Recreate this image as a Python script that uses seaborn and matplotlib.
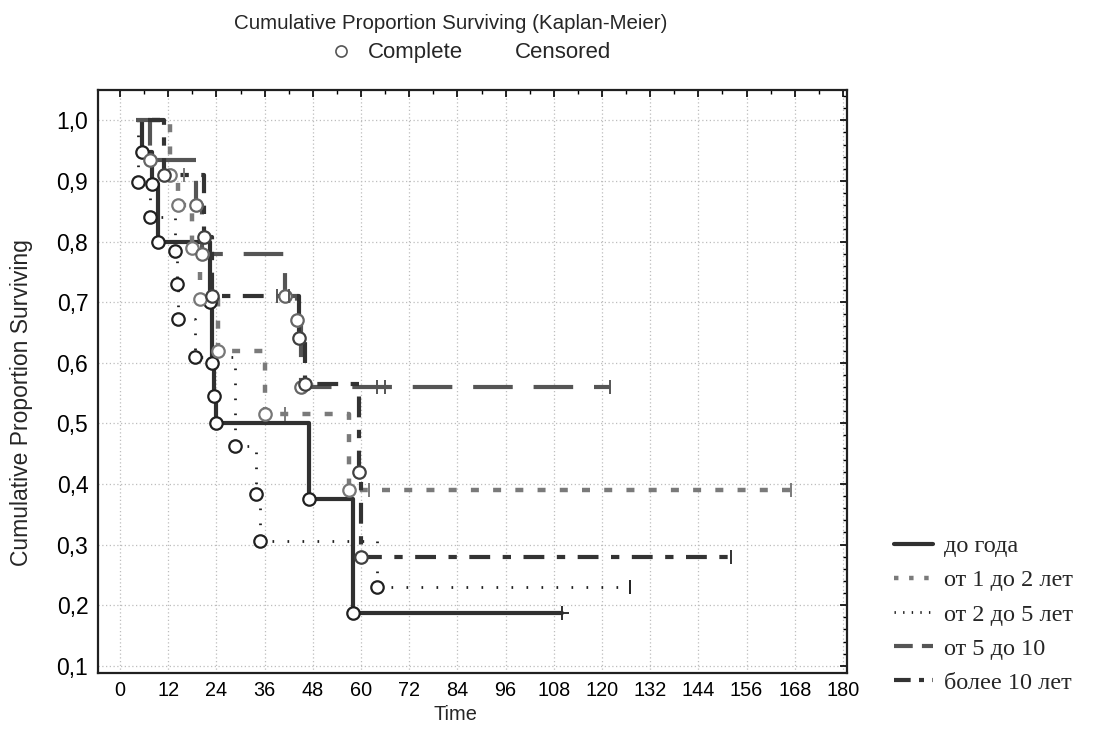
import numpy as np
import pandas as pd
import seaborn as sns
import matplotlib
matplotlib.use("Agg")
import matplotlib.pyplot as plt
from matplotlib.lines import Line2D
from matplotlib.ticker import MultipleLocator, FuncFormatter

# groups
labels = ["до года", "от 1 до 2 лет", "от 2 до 5 лет", "от 5 до 10", "более 10 лет"]

# event (complete) times and survival after each event
a_time = [5.5, 8, 9.5, 22.5, 23, 23.5, 24, 47, 58]
a_surv = [0.947, 0.895, 0.80, 0.70, 0.60, 0.545, 0.50, 0.375, 0.1875]
a_cens_t = [110]
a_cens_s = [0.1875]

b_time = [12.5, 14.5, 18, 20, 24.5, 36, 57]
b_surv = [0.91, 0.86, 0.79, 0.705, 0.62, 0.515, 0.39]
b_cens_t = [16, 41, 62, 167]
b_cens_s = [0.91, 0.515, 0.39, 0.39]

c_time = [4.5, 7.5, 13.7, 14.2, 14.5, 18.7, 28.6, 33.8, 34.8, 64]
c_surv = [0.898, 0.84, 0.785, 0.73, 0.672, 0.61, 0.462, 0.384, 0.306, 0.23]
c_cens_t = [127]
c_cens_s = [0.23]

d_time = [7.5, 19, 20.5, 41, 44, 45]
d_surv = [0.934, 0.86, 0.78, 0.71, 0.67, 0.56]
d_cens_t = [39, 42, 64, 66, 122]
d_cens_s = [0.71, 0.71, 0.56, 0.56, 0.56]

e_time = [11, 21, 23, 44.5, 46, 59.5, 60]
e_surv = [0.91, 0.807, 0.71, 0.64, 0.565, 0.42, 0.28]
e_cens_t = [152]
e_cens_s = [0.28]

start_t = [5.5, 8, 4.5, 4, 7]

groups = [
    (a_time, a_surv, a_cens_t, a_cens_s),
    (b_time, b_surv, b_cens_t, b_cens_s),
    (c_time, c_surv, c_cens_t, c_cens_s),
    (d_time, d_surv, d_cens_t, d_cens_s),
    (e_time, e_surv, e_cens_t, e_cens_s),
]

colors = ["#303030", "#7a7a7a", "#202020", "#555555", "#333333"]
styles = ["-", (0, (1.8, 3.2)), (0, (0.6, 4.8)), (0, (9.5, 5)), (0, (5, 3, 2, 3))]
legend_styles = ["-", (0, (1.0, 2.4)), (0, (0.5, 2.6)), (0, (4.5, 2.2)), (0, (4, 2, 1.2, 2))]
widths = [3.0, 3.2, 2.0, 3.0, 3.0]
circ_edge = ["#202020", "#777777", "#202020", "#666666", "#404040"]
cens_marker = ["+", "|", "|", "|", "|"]

sns.set_theme(style="white")
plt.rcParams["font.family"] = ["Liberation Sans", "DejaVu Sans"]

fig = plt.figure(figsize=(10.94, 7.44), dpi=100)
ax = fig.add_axes([0.0896, 0.0954, 0.6846, 0.7836])

for i, (et, es, ct, cs) in enumerate(groups):
    end_t = max(ct) if max(ct) > et[-1] else et[-1]
    t = [start_t[i]] + list(et) + [end_t]
    s = [1.0] + list(es) + [es[-1]]
    df = pd.DataFrame({"t": t, "s": s})
    sns.lineplot(data=df, x="t", y="s", drawstyle="steps-post", estimator=None,
                 sort=False, color=colors[i], linewidth=widths[i],
                 linestyle=styles[i], ax=ax, zorder=2)

for i, (et, es, ct, cs) in enumerate(groups):
    sns.scatterplot(x=et, y=es, marker="o", s=80, facecolor="white",
                    edgecolor=circ_edge[i], linewidth=1.6, ax=ax, zorder=4)
    sns.scatterplot(x=ct, y=cs, marker=cens_marker[i], s=100, color=colors[i],
                    linewidth=1.4, ax=ax, zorder=4)

ax.set_xlim(-5.5, 181)
ax.set_ylim(0.088, 1.05)
ax.xaxis.set_major_locator(MultipleLocator(12))
ax.xaxis.set_minor_locator(MultipleLocator(6))
ax.yaxis.set_major_locator(MultipleLocator(0.1))
ax.yaxis.set_minor_locator(MultipleLocator(0.02))
ax.yaxis.set_major_formatter(FuncFormatter(lambda v, p: f"{v:.1f}".replace(".", ",")))
ax.tick_params(which="both", direction="in", top=True, right=True, colors="black")
ax.tick_params(axis="x", labelsize=14.3, pad=6)
ax.tick_params(axis="y", labelsize=16.5, pad=7)
ax.tick_params(which="major", length=5, width=1.2)
ax.tick_params(which="minor", length=3, width=1)
ax.grid(True, which="major", linestyle=(0, (1, 2)), color="#bdbdbd", linewidth=0.9)
for sp in ax.spines.values():
    sp.set_color("#202020")
    sp.set_linewidth(1.6)
ax.set_xlabel("Time", fontsize=14.4)
ax.set_ylabel("Cumulative Proportion Surviving", fontsize=16.5)
ax.xaxis.set_label_coords(0.477, -0.054)
ax.yaxis.set_label_coords(-0.087, 0.464)

fig.text(0.412, 0.968, "Cumulative Proportion Surviving (Kaplan-Meier)",
         ha="center", va="center", fontsize=14.8)
top_handles = [
    Line2D([], [], marker="o", linestyle="none", markersize=8,
           markerfacecolor="white", markeredgecolor="#555555", markeredgewidth=1.2),
    Line2D([], [], linestyle="none"),
]
fig.legend(top_handles, ["Complete", "Censored"], loc="center",
           bbox_to_anchor=(0.429, 0.929), ncol=2, frameon=False, fontsize=16,
           handlelength=1.2, columnspacing=0.55, handletextpad=0.6)

handles = [Line2D([], [], color=colors[i], linestyle=legend_styles[i], linewidth=widths[i])
           for i in range(len(labels))]
fig.legend(handles, labels, loc="upper left", bbox_to_anchor=(0.797, 0.31),
           frameon=False, prop={"family": "Liberation Serif", "size": 17.5},
           handlelength=1.6, handletextpad=0.45, labelspacing=0.5)

fig.savefig("out.png", dpi=100)
